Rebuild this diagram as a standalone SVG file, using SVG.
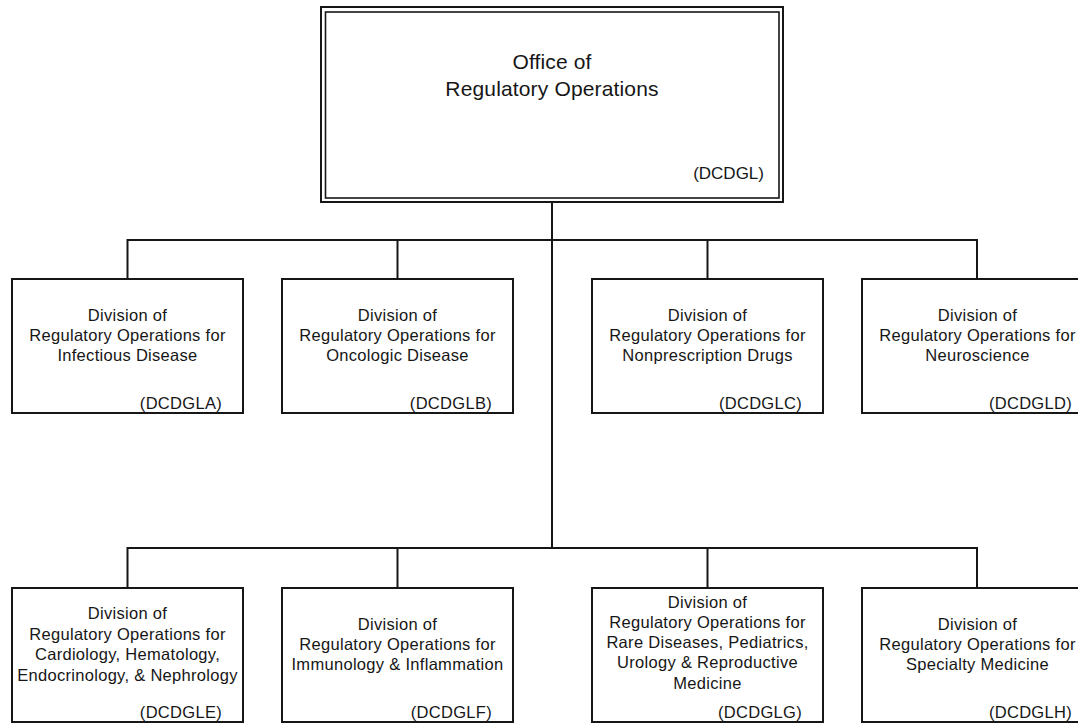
<svg xmlns="http://www.w3.org/2000/svg" width="1078" height="724" viewBox="0 0 1078 724">
<style>
.bg{fill:#ffffff}
.box{fill:#ffffff;stroke:#161616;stroke-width:2}
.line{fill:none;stroke:#161616;stroke-width:2}
.t{font-family:"Liberation Sans",Arial,sans-serif;font-size:16.5px;letter-spacing:0.3px;fill:#161616;text-anchor:middle}
.c{font-family:"Liberation Sans",Arial,sans-serif;font-size:16.5px;letter-spacing:0.3px;fill:#161616;text-anchor:end}
.tt{font-family:"Liberation Sans",Arial,sans-serif;font-size:21px;letter-spacing:0.15px;fill:#161616;text-anchor:middle}
.tc{font-family:"Liberation Sans",Arial,sans-serif;font-size:17px;fill:#161616;text-anchor:end}
</style>
<rect class="bg" x="0" y="0" width="1078" height="724"/>
<g id="connectors">
<path class="line" d="M552,202 V548"/>
<path class="line" d="M127.5,279 V240 H977 V279"/>
<path class="line" d="M397.5,240 V279"/>
<path class="line" d="M707.5,240 V279"/>
<path class="line" d="M127.5,588 V548 H977 V588"/>
<path class="line" d="M397.5,548 V588"/>
<path class="line" d="M707.5,548 V588"/>
</g>
<g id="node-DCDGL">
<rect class="box" x="321" y="7" width="462" height="195"/>
<rect class="box" x="325.5" y="12" width="453.5" height="186" style="stroke-width:1.6"/>
<text class="tt" x="552" y="69">Office of</text>
<text class="tt" x="552" y="96">Regulatory Operations</text>
<text class="tc" x="764" y="179">(DCDGL)</text>
</g>
<g id="node-DCDGLA">
<rect class="box" x="12" y="279" width="231" height="134"/>
<text class="t" x="127.5" y="320.5">Division of</text>
<text class="t" x="127.5" y="340.8">Regulatory Operations for</text>
<text class="t" x="127.5" y="361">Infectious Disease</text>
<text class="c" x="222" y="408.5">(DCDGLA)</text>
</g>
<g id="node-DCDGLB">
<rect class="box" x="282" y="279" width="231" height="134"/>
<text class="t" x="397.5" y="320.5">Division of</text>
<text class="t" x="397.5" y="340.8">Regulatory Operations for</text>
<text class="t" x="397.5" y="361">Oncologic Disease</text>
<text class="c" x="492" y="408.5">(DCDGLB)</text>
</g>
<g id="node-DCDGLC">
<rect class="box" x="592" y="279" width="231" height="134"/>
<text class="t" x="707.5" y="320.5">Division of</text>
<text class="t" x="707.5" y="340.8">Regulatory Operations for</text>
<text class="t" x="707.5" y="361">Nonprescription Drugs</text>
<text class="c" x="802" y="408.5">(DCDGLC)</text>
</g>
<g id="node-DCDGLD">
<rect class="box" x="862" y="279" width="231" height="134"/>
<text class="t" x="977.5" y="320.5">Division of</text>
<text class="t" x="977.5" y="340.8">Regulatory Operations for</text>
<text class="t" x="977.5" y="361">Neuroscience</text>
<text class="c" x="1072" y="408.5">(DCDGLD)</text>
</g>
<g id="node-DCDGLE">
<rect class="box" x="12" y="588" width="231" height="134"/>
<text class="t" x="127.5" y="619">Division of</text>
<text class="t" x="127.5" y="639.5">Regulatory Operations for</text>
<text class="t" x="127.5" y="660">Cardiology, Hematology,</text>
<text class="t" x="127.5" y="680.5">Endocrinology, &amp; Nephrology</text>
<text class="c" x="222" y="717.5">(DCDGLE)</text>
</g>
<g id="node-DCDGLF">
<rect class="box" x="282" y="588" width="231" height="134"/>
<text class="t" x="397.5" y="629.5">Division of</text>
<text class="t" x="397.5" y="649.8">Regulatory Operations for</text>
<text class="t" x="397.5" y="670">Immunology &amp; Inflammation</text>
<text class="c" x="492" y="717.5">(DCDGLF)</text>
</g>
<g id="node-DCDGLG">
<rect class="box" x="592" y="588" width="231" height="134"/>
<text class="t" x="707.5" y="607.5">Division of</text>
<text class="t" x="707.5" y="627.8">Regulatory Operations for</text>
<text class="t" x="707.5" y="648">Rare Diseases, Pediatrics,</text>
<text class="t" x="707.5" y="668.3">Urology &amp; Reproductive</text>
<text class="t" x="707.5" y="688.6">Medicine</text>
<text class="c" x="802" y="717.5">(DCDGLG)</text>
</g>
<g id="node-DCDGLH">
<rect class="box" x="862" y="588" width="231" height="134"/>
<text class="t" x="977.5" y="629.5">Division of</text>
<text class="t" x="977.5" y="649.8">Regulatory Operations for</text>
<text class="t" x="977.5" y="670">Specialty Medicine</text>
<text class="c" x="1072" y="717.5">(DCDGLH)</text>
</g>
</svg>
